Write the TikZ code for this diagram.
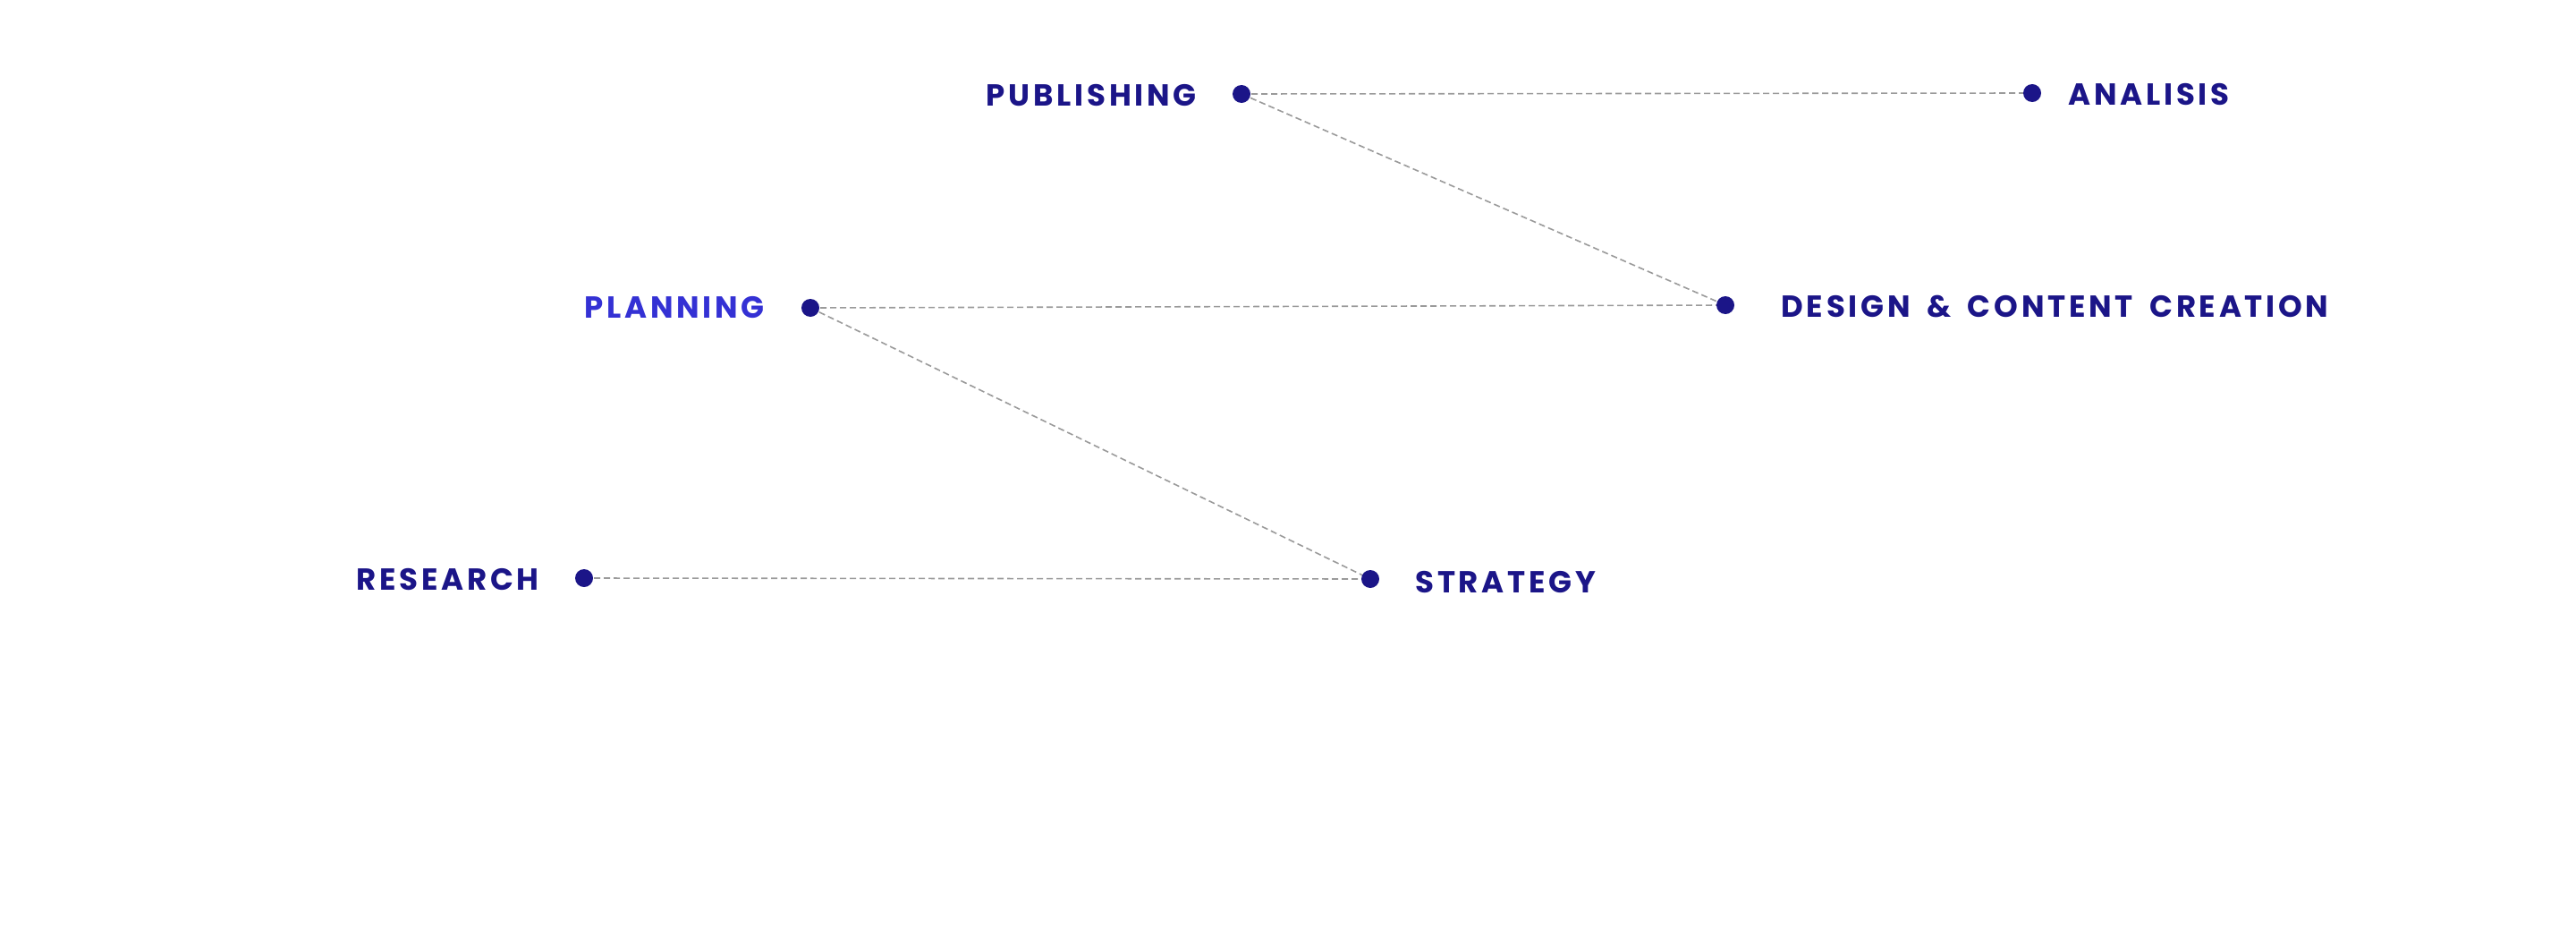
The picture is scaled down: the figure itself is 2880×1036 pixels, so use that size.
\documentclass[tikz,border=0pt]{standalone}
\usepackage{fontspec}
\setmainfont{Poppins}[LetterSpace=11, WordSpace=1.7]
\usetikzlibrary{positioning}
\pgfdeclarelayer{background}
\pgfsetlayers{background,main}
\definecolor{stepnavy}{HTML}{1B1588}
\definecolor{stepblue}{HTML}{3431D4}
\definecolor{stepgray}{HTML}{9A9A9A}

\begin{document}
\begin{tikzpicture}[
  x=1pt, y=-1pt,
  node distance=40pt,
  dot/.style={circle, fill=stepnavy, inner sep=0pt, minimum size=20pt},
  tag/.style={inner sep=0pt, yshift=-2pt, text=stepnavy, font=\fontsize{34}{34}\selectfont\bfseries},
  link/.style={draw=stepgray, line width=1.6pt, dash pattern=on 7pt off 4pt}
]
\useasboundingbox (0,0) rectangle (2880,1036);

\node[dot] (publishing) at (1388,105) {};
\node[dot] (analisis) at (2272,104) {};
\node[dot] (design) at (1929,341) {};
\node[dot] (planning) at (906,344) {};
\node[dot] (strategy) at (1532,647) {};
\node[dot] (research) at (653,646) {};

\node[tag, left=40pt of publishing] (publishinglabel) {PUBLISHING};
\node[tag, right=30pt of analisis] (analisislabel) {ANALISIS};
\node[tag, right=52pt of design] (designlabel) {DESIGN \& CONTENT CREATION};
\node[tag, text=stepblue, yshift=2pt, left=41pt of planning] (planninglabel) {PLANNING};
\node[tag, yshift=-2pt, right=40pt of strategy] (strategylabel) {STRATEGY};
\node[tag, left=40pt of research] (researchlabel) {RESEARCH};

\begin{pgfonlayer}{background}
\draw[link] (publishing.center) -- (analisis.center);
\draw[link] (publishing.center) -- (design.center);
\draw[link] (planning.center) -- (design.center);
\draw[link] (planning.center) -- (strategy.center);
\draw[link] (research.center) -- (strategy.center);
\end{pgfonlayer}
\end{tikzpicture}
\end{document}
